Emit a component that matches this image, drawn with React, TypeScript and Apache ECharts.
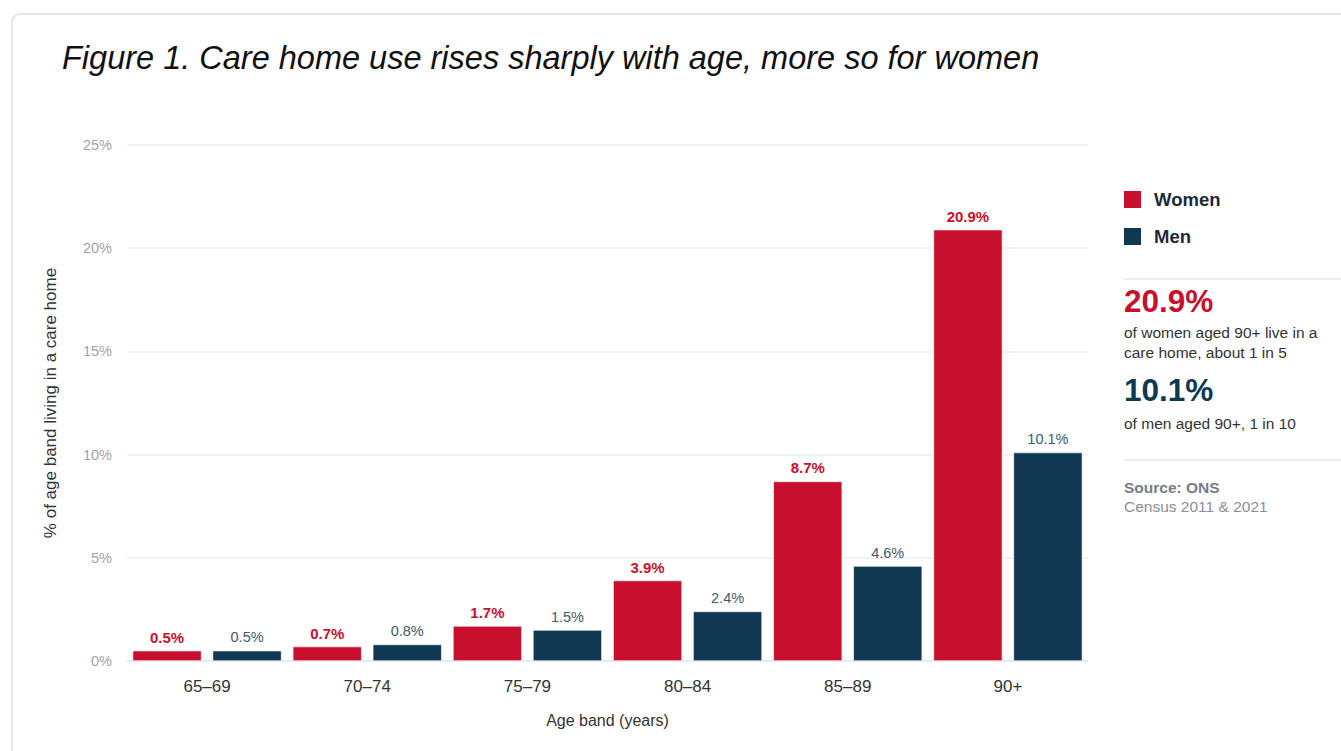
import React, { useEffect, useRef } from "react";
import * as echarts from "echarts";

const categories = ["65–69", "70–74", "75–79", "80–84", "85–89", "90+"];
const women = [0.5, 0.7, 1.7, 3.9, 8.7, 20.9];
const men = [0.5, 0.8, 1.5, 2.4, 4.6, 10.1];
const seriesNames = ["Women", "Men"];
const yTicks = { min: 0, max: 25, interval: 5 };
const titleText = "Figure 1. Care home use rises sharply with age, more so for women";
const yAxisName = "% of age band living in a care home";
const xAxisName = "Age band (years)";
const calloutWomen = ["20.9%", "of women aged 90+ live in a", "care home, about 1 in 5"];
const calloutMen = ["10.1%", "of men aged 90+, 1 in 10"];
const sourceLines = ["Source: ONS", "Census 2011 & 2021"];

const RED = "#c8102e";
const NAVY = "#0f3852";
const FONT = "'Liberation Sans', Arial, Helvetica, sans-serif";

export default function App() {
  const ref = useRef<HTMLDivElement>(null);
  useEffect(() => {
    if (!ref.current) return;
    const chart = echarts.init(ref.current, undefined, { renderer: "svg" });
    const panelX = 1124;
    chart.setOption({
      animation: false,
      backgroundColor: "#ffffff",
      textStyle: { fontFamily: FONT },
      grid: { left: 127, right: 253, top: 145, bottom: 90, containLabel: false },
      legend: {
        orient: "vertical",
        left: panelX - 2,
        top: 189,
        padding: 0,
        itemWidth: 19,
        itemHeight: 19,
        itemGap: 16,
        icon: "rect",
        data: seriesNames,
        selectedMode: false,
        textStyle: {
          fontFamily: FONT,
          fontSize: 18.5,
          fontWeight: "bold",
          color: "#1f2937",
          padding: [0, 0, 0, 7],
        },
      },
      xAxis: {
        type: "category",
        data: categories,
        axisTick: { show: false },
        axisLine: { show: true, lineStyle: { color: "#e5e7eb", width: 1.5 } },
        axisLabel: { color: "#333333", fontSize: 17, margin: 17, fontFamily: FONT },
        name: xAxisName,
        nameLocation: "middle",
        nameGap: 51,
        nameTextStyle: { color: "#333333", fontSize: 16, fontFamily: FONT },
      },
      yAxis: {
        type: "value",
        min: yTicks.min,
        max: yTicks.max,
        interval: yTicks.interval,
        axisLine: { show: false },
        axisTick: { show: false },
        axisLabel: {
          formatter: "{value}%",
          color: "#9ca3af",
          fontSize: 14.5,
          margin: 15,
          fontFamily: FONT,
        },
        splitLine: { lineStyle: { color: "#eceef1", width: 1.5 } },
        name: yAxisName,
        nameLocation: "middle",
        nameGap: 68,
        nameRotate: 90,
        nameTextStyle: { color: "#333333", fontSize: 17, fontFamily: FONT },
      },
      series: [
        {
          name: seriesNames[0],
          type: "bar",
          data: women,
          barCategoryGap: "7%",
          barGap: "16%",
          itemStyle: { color: RED, borderColor: "#ffffff", borderWidth: 0.6 },
          label: {
            show: true,
            position: "top",
            distance: 6,
            formatter: "{c}%",
            color: RED,
            fontWeight: "bold",
            fontSize: 15,
            fontFamily: FONT,
          },
        },
        {
          name: seriesNames[1],
          type: "bar",
          data: men,
          barCategoryGap: "7%",
          barGap: "16%",
          itemStyle: { color: NAVY, borderColor: "#ffffff", borderWidth: 0.6 },
          label: {
            show: true,
            position: "top",
            distance: 6,
            formatter: "{c}%",
            color: "#41596f",
            fontSize: 14.5,
            fontFamily: FONT,
          },
        },
      ],
      graphic: [
        {
          type: "rect",
          z: -10,
          silent: true,
          shape: { x: 12, y: 14, width: 1400, height: 800, r: 8 },
          style: { fill: "none", stroke: "#e4e6ea", lineWidth: 2 },
        },
        {
          type: "text",
          x: 62,
          y: 58,
          style: {
            text: titleText,
            fontFamily: FONT,
            fontStyle: "italic",
            fontSize: 32.5,
            fill: "#111111",
            verticalAlign: "middle",
          },
        },
        {
          type: "line",
          shape: { x1: panelX, y1: 279, x2: 1341, y2: 279 },
          style: { stroke: "#e5e7eb", lineWidth: 1.5 },
        },
        {
          type: "text",
          x: panelX,
          y: 301,
          style: { text: calloutWomen[0], fontFamily: FONT, fontSize: 31.5, fontWeight: "bold", fill: RED, verticalAlign: "middle" },
        },
        {
          type: "text",
          x: panelX,
          y: 332,
          style: { text: calloutWomen[1], fontFamily: FONT, fontSize: 15.5, fill: "#333333", verticalAlign: "middle" },
        },
        {
          type: "text",
          x: panelX,
          y: 352,
          style: { text: calloutWomen[2], fontFamily: FONT, fontSize: 15.5, fill: "#333333", verticalAlign: "middle" },
        },
        {
          type: "text",
          x: panelX,
          y: 390,
          style: { text: calloutMen[0], fontFamily: FONT, fontSize: 31.5, fontWeight: "bold", fill: NAVY, verticalAlign: "middle" },
        },
        {
          type: "text",
          x: panelX,
          y: 423,
          style: { text: calloutMen[1], fontFamily: FONT, fontSize: 15.5, fill: "#333333", verticalAlign: "middle" },
        },
        {
          type: "line",
          shape: { x1: panelX, y1: 460, x2: 1341, y2: 460 },
          style: { stroke: "#e5e7eb", lineWidth: 1.5 },
        },
        {
          type: "text",
          x: panelX,
          y: 487,
          style: { text: sourceLines[0], fontFamily: FONT, fontSize: 15.5, fontWeight: "bold", fill: "#767d87", verticalAlign: "middle" },
        },
        {
          type: "text",
          x: panelX,
          y: 506,
          style: { text: sourceLines[1], fontFamily: FONT, fontSize: 15.5, fill: "#8a9099", verticalAlign: "middle" },
        },
      ],
    });
    return () => chart.dispose();
  }, []);
  return (
    <div
      style={{ position: "fixed", left: 0, top: 0, width: 1341, height: 751, background: "#ffffff" }}
    >
      <div ref={ref} style={{ width: 1341, height: 751 }} />
    </div>
  );
}
